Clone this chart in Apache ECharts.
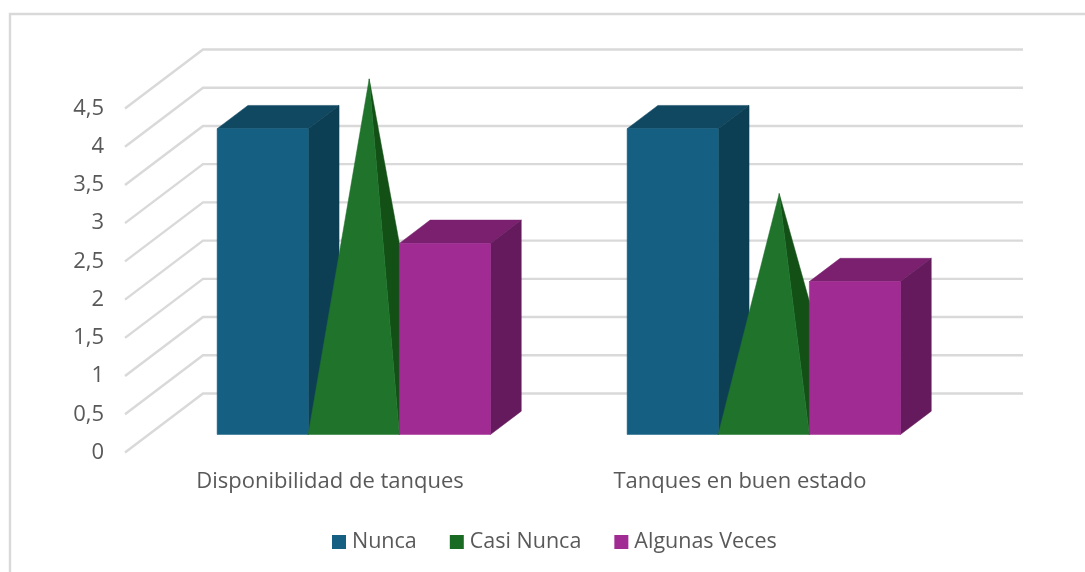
<!DOCTYPE html>
<html>
<head>
<meta charset="utf-8">
<title>Tanques</title>
<script src="https://cdn.jsdelivr.net/npm/echarts@6/dist/echarts.min.js"></script>
<style>
  html, body { margin: 0; padding: 0; background: #fff; }
  #chart { width: 1085px; height: 572px; }
</style>
</head>
<body>
<div id="chart"></div>
<script>
const categories = ["Disponibilidad de tanques", "Tanques en buen estado"];
const nunca = [4, 4];
const casiNunca = [4.5, 3];
const algunasVeces = [2.5, 2];
const yTicks = [0, 0.5, 1, 1.5, 2, 2.5, 3, 3.5, 4, 4.5];

// oblique projection of the excel 3d box
const WALL_DX = 78;
const WALL_DY = -59;
const BAR_START = 0.305;
const BAR_DEPTH = 0.395;
const GAP_SLOTS = 4.5;
const FONT = "'Open Sans', sans-serif";

const chart = echarts.init(document.getElementById("chart"));

const wall = (params, api) => {
  const y = api.coord([0, api.value(0)])[1];
  const left = params.coordSys.x;
  const right = left + params.coordSys.width;
  return {
    type: "polyline",
    shape: { points: [[left, y], [left + WALL_DX, y + WALL_DY], [right + WALL_DX, y + WALL_DY]] },
    style: { stroke: "#d9d9d9", lineWidth: 2.4, fill: null },
  };
};

const barBase = (api, slot) => {
  const cat = api.value(0);
  const width = api.size([1, 0])[0] / GAP_SLOTS;
  const center = api.coord([cat, 0])[0];
  const x0 = center + (slot - 1.5) * width + BAR_START * WALL_DX;
  const base = api.coord([cat, 0])[1] + BAR_START * WALL_DY;
  const top = api.coord([cat, api.value(1)])[1] + BAR_START * WALL_DY;
  return { x0, x1: x0 + width, base, top, dx: BAR_DEPTH * WALL_DX, dy: BAR_DEPTH * WALL_DY };
};

const poly = (points, fill) => ({
  type: "polygon",
  shape: { points },
  style: { fill, stroke: fill, lineWidth: 0.5, lineJoin: "round" },
});

const box = (slot, front, topFace, side) => (params, api) => {
  const b = barBase(api, slot);
  return {
    type: "group",
    children: [
      poly([[b.x0, b.top], [b.x1, b.top], [b.x1 + b.dx, b.top + b.dy], [b.x0 + b.dx, b.top + b.dy]], topFace),
      poly([[b.x1, b.top], [b.x1 + b.dx, b.top + b.dy], [b.x1 + b.dx, b.base + b.dy], [b.x1, b.base]], side),
      poly([[b.x0, b.top], [b.x1, b.top], [b.x1, b.base], [b.x0, b.base]], front),
    ],
  };
};

const pyramid = (slot, front, side) => (params, api) => {
  const b = barBase(api, slot);
  const apex = [(b.x0 + b.x1 + b.dx) / 2, b.top + b.dy / 2];
  return {
    type: "group",
    children: [
      poly([apex, [b.x1, b.base], [b.x1 + b.dx, b.base + b.dy]], side),
      poly([apex, [b.x0, b.base], [b.x1, b.base]], front),
    ],
  };
};

const toPairs = (values) => values.map((v, i) => [i, v]);

const option = {
  animation: false,
  backgroundColor: "#fff",
  textStyle: { fontFamily: FONT },
  grid: { left: 125, top: 108.5, width: 820, height: 344 },
  graphic: [
    { type: "polyline", shape: { points: [[10, 572], [10, 14], [1085, 14]] }, style: { stroke: "#d9d9d9", lineWidth: 2.4, fill: null }, silent: true },
  ],
  xAxis: {
    type: "category",
    data: categories,
    axisLine: { show: false },
    axisTick: { show: false },
    axisLabel: { color: "#595959", fontSize: 22, fontFamily: FONT, margin: 18 },
  },
  yAxis: {
    type: "value",
    min: 0,
    max: 4.5,
    interval: 0.5,
    axisLine: { show: false },
    axisTick: { show: false },
    splitLine: { show: false },
    axisLabel: {
      color: "#595959",
      fontSize: 22,
      fontFamily: FONT,
      margin: 21,
      padding: [2, 0, 0, 0],
      formatter: (v) => String(v).replace(".", ","),
    },
  },
  legend: {
    left: 327,
    top: 526,
    itemWidth: 14,
    itemHeight: 14,
    itemGap: 33,
    icon: "rect",
    textStyle: { color: "#595959", fontSize: 21.5, fontFamily: FONT, padding: [0, 0, 0, 1] },
    data: ["Nunca", "Casi Nunca", "Algunas Veces"],
  },
  series: [
    { type: "custom", name: "walls", silent: true, z: 1, data: yTicks.map((v) => [v]), renderItem: wall, encode: { y: 0 } },
    { type: "custom", name: "Nunca", z: 2, itemStyle: { color: "#156082" }, data: toPairs(nunca), encode: { x: 0, y: 1 }, renderItem: box(0, "#156082", "#104862", "#0d3f54") },
    { type: "custom", name: "Casi Nunca", z: 3, itemStyle: { color: "#196b24" }, data: toPairs(casiNunca), encode: { x: 0, y: 1 }, renderItem: pyramid(1, "#1f732b", "#125016") },
    { type: "custom", name: "Algunas Veces", z: 4, itemStyle: { color: "#a02b93" }, data: toPairs(algunasVeces), encode: { x: 0, y: 1 }, renderItem: box(2, "#a02b93", "#7a206e", "#641a5c") },
  ],
};

chart.setOption(option);
</script>
</body>
</html>
